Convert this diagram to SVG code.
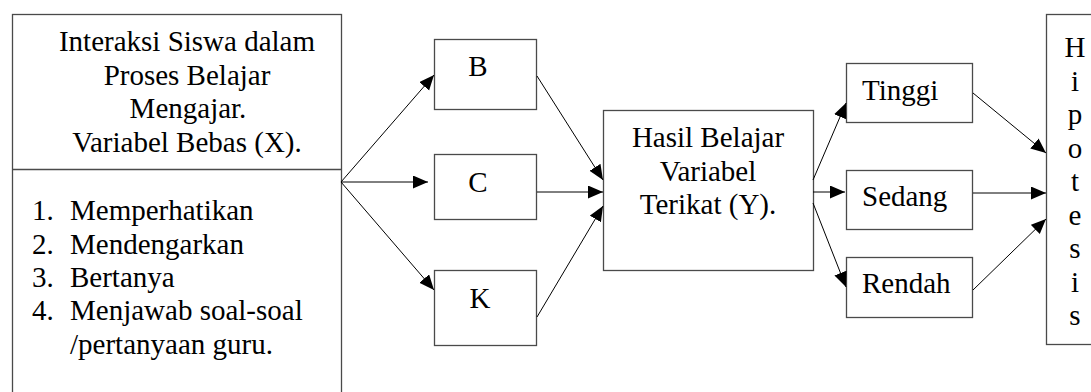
<svg xmlns="http://www.w3.org/2000/svg" width="1091" height="392" viewBox="0 0 1091 392">
<style>
  .box { fill: #fff; stroke: #4a4a4a; stroke-width: 1.3; }
  .t { font-family: "Liberation Serif", "Times New Roman", serif; font-size: 29px; fill: #000; }
  .m { text-anchor: middle; }
  .c { stroke: #000; stroke-width: 1; fill: none; marker-end: url(#ah); }
</style>
<defs>
  <marker id="ah" markerUnits="userSpaceOnUse" markerWidth="16" markerHeight="14" refX="15" refY="6.5" orient="auto">
    <path d="M0,0 L15,6.5 L0,13 Z" fill="#000"/>
  </marker>
</defs>
<rect width="1091" height="392" fill="#fff"/>
<g id="node-x">
  <rect class="box" x="12.5" y="14.5" width="329" height="400"/>
  <line x1="12.5" y1="169.5" x2="341.5" y2="169.5" stroke="#4a4a4a" stroke-width="1.3"/>
  <text class="t m" x="187" y="51">Interaksi Siswa dalam</text>
  <text class="t m" x="187" y="84.5">Proses Belajar</text>
  <text class="t m" x="188" y="118">Mengajar.</text>
  <text class="t m" x="187" y="151.5">Variabel Bebas (X).</text>
  <text class="t" x="32" y="220">1.</text><text class="t" x="70" y="220">Memperhatikan</text>
  <text class="t" x="32" y="253.5">2.</text><text class="t" x="70" y="253.5">Mendengarkan</text>
  <text class="t" x="32" y="287">3.</text><text class="t" x="70" y="287">Bertanya</text>
  <text class="t" x="32" y="320">4.</text><text class="t" x="70" y="320">Menjawab soal-soal</text>
  <text class="t" x="70" y="353.5">/pertanyaan guru.</text>
</g>
<g id="node-b">
  <rect class="box" x="434.5" y="39.5" width="102" height="70"/>
  <text class="t m" x="478" y="76">B</text>
</g>
<g id="node-c">
  <rect class="box" x="434.5" y="154.5" width="102" height="65"/>
  <text class="t m" x="478" y="191.5">C</text>
</g>
<g id="node-k">
  <rect class="box" x="434.5" y="270.5" width="102" height="75"/>
  <text class="t m" x="480" y="308">K</text>
</g>
<g id="node-y">
  <rect class="box" x="603.5" y="110.5" width="210" height="160"/>
  <text class="t m" x="708" y="147">Hasil Belajar</text>
  <text class="t m" x="708" y="180.5">Variabel</text>
  <text class="t m" x="708" y="214">Terikat (Y).</text>
</g>
<g id="node-tinggi">
  <rect class="box" x="846.5" y="63.5" width="126" height="59"/>
  <text class="t" x="862" y="100">Tinggi</text>
</g>
<g id="node-sedang">
  <rect class="box" x="846.5" y="170.5" width="126" height="59"/>
  <text class="t" x="862" y="206">Sedang</text>
</g>
<g id="node-rendah">
  <rect class="box" x="846.5" y="257.5" width="126" height="60"/>
  <text class="t" x="862" y="293">Rendah</text>
</g>
<g id="node-hipotesis">
  <rect class="box" x="1046.5" y="14.5" width="60" height="330"/>
  <text class="t m" x="1075" y="57">H</text>
  <text class="t m" x="1075" y="90.5">i</text>
  <text class="t m" x="1075" y="124">p</text>
  <text class="t m" x="1075" y="157.5">o</text>
  <text class="t m" x="1075" y="191">t</text>
  <text class="t m" x="1075" y="224.5">e</text>
  <text class="t m" x="1075" y="258">s</text>
  <text class="t m" x="1075" y="291.5">i</text>
  <text class="t m" x="1075" y="325">s</text>
</g>
<g id="connectors">
  <line class="c" x1="341" y1="182" x2="434" y2="75"/>
  <line class="c" x1="341" y1="182" x2="428" y2="182"/>
  <line class="c" x1="341" y1="182" x2="434" y2="290"/>
  <line class="c" x1="537" y1="76" x2="603" y2="180"/>
  <line class="c" x1="537" y1="192" x2="603" y2="192"/>
  <line class="c" x1="537" y1="317" x2="603" y2="206"/>
  <line class="c" x1="813" y1="180" x2="846" y2="103"/>
  <line class="c" x1="813" y1="192" x2="845" y2="192"/>
  <line class="c" x1="813" y1="203" x2="846" y2="287"/>
  <line class="c" x1="973" y1="93" x2="1046" y2="153"/>
  <line class="c" x1="973" y1="193" x2="1046" y2="193"/>
  <line class="c" x1="973" y1="290" x2="1046" y2="219"/>
</g>
</svg>
